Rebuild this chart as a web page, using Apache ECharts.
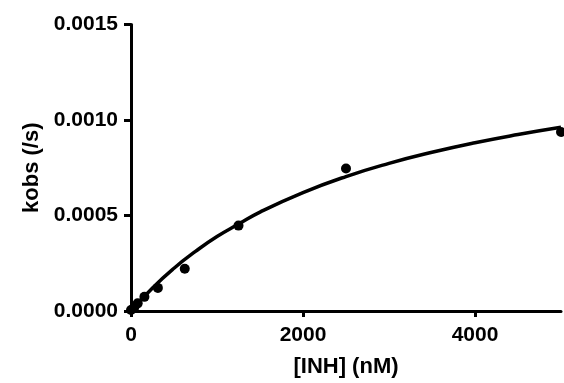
<!DOCTYPE html>
<html><head><meta charset="utf-8">
<script src="https://cdn.jsdelivr.net/npm/echarts@6/dist/echarts.min.js"></script>
<style>html,body{margin:0;padding:0;background:#fff}#c{width:564px;height:383px}</style>
</head><body><div id="c"></div>
<script>
const conc = [0, 39, 78, 156, 312.5, 625, 1250, 2500, 5000];
const kobs = [0.000005, 0.00002, 0.00004, 0.000074, 0.000121, 0.000221, 0.000447, 0.000746, 0.000937];
const fitX = [0, 250, 500, 750, 1000, 1250, 1500, 2000, 2500, 3000, 3500, 4000, 4500, 5000];
const fitY = [0, 0.000121, 0.000224, 0.000312, 0.00039, 0.000455, 0.000518, 0.00062, 0.000704, 0.000773, 0.000831, 0.000881, 0.000924, 0.000962];
const xTicks = [0, 2000, 4000];
const yTicks = [0, 0.0005, 0.0010, 0.0015];

const F = '"Liberation Sans", Arial, sans-serif';
const chart = echarts.init(document.getElementById('c'));
chart.setOption({
  animation: false,
  grid: {left: 131, right: 3, top: 24.5, bottom: 71.5, containLabel: false},
  xAxis: {
    type: 'value', min: 0, max: 5000,
    name: '[INH] (nM)', nameLocation: 'middle', nameGap: 45,
    nameTextStyle: {color: '#000', fontFamily: F, fontWeight: 'bold', fontSize: 22},
    axisLine: {show: true, onZero: false, lineStyle: {color: '#000', width: 3}},
    axisTick: {show: true, length: 6, lineStyle: {color: '#000', width: 3}, customValues: xTicks},
    axisLabel: {color: '#000', fontFamily: F, fontWeight: 'bold', fontSize: 21, margin: 14,
      customValues: xTicks, formatter: v => String(v)},
    splitLine: {show: false}
  },
  yAxis: {
    type: 'value', min: 0, max: 0.0015, interval: 0.0005,
    name: 'kobs (/s)', nameLocation: 'middle', nameGap: 87, nameRotate: 90,
    nameTextStyle: {color: '#000', fontFamily: F, fontWeight: 'bold', fontSize: 22},
    axisLine: {show: true, onZero: false, lineStyle: {color: '#000', width: 3}},
    axisTick: {show: true, length: 7, lineStyle: {color: '#000', width: 3}, customValues: yTicks},
    axisLabel: {color: '#000', fontFamily: F, fontWeight: 'bold', fontSize: 21, margin: 13,
      customValues: yTicks, formatter: v => v.toFixed(4)},
    splitLine: {show: false}
  },
  series: [
    {type: 'line', data: fitX.map((x, i) => [x, fitY[i]]), smooth: true, showSymbol: false,
      lineStyle: {color: '#000', width: 3.5}, z: 2},
    {type: 'scatter', data: conc.map((x, i) => [x, kobs[i]]), symbol: 'circle', symbolSize: 10,
      itemStyle: {color: '#000', opacity: 1}, z: 3}
  ]
});
</script></body></html>
